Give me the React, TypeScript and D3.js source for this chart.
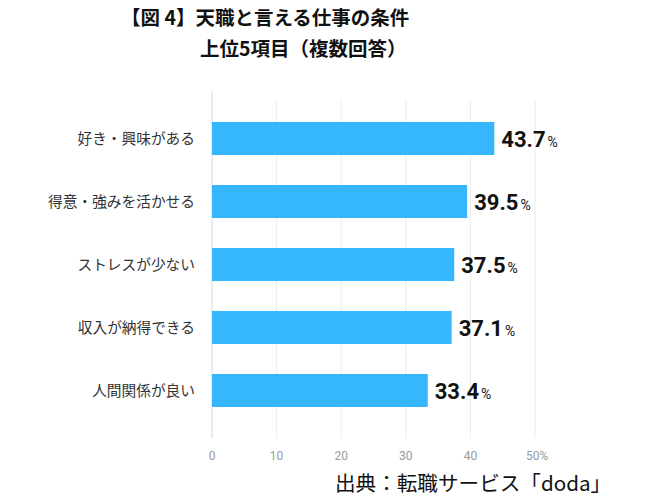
import React from "react";
import * as d3 from "d3";

const categories = ["好き・興味がある", "得意・強みを活かせる", "ストレスが少ない", "収入が納得できる", "人間関係が良い"];
const values = [43.7, 39.5, 37.5, 37.1, 33.4];
const ticks = [0, 10, 20, 30, 40, 50];
const titleLines = ["【図 4】天職と言える仕事の条件", "上位5項目（複数回答）"];
const sourceText = "出典：転職サービス「doda」";

const W = 658, H = 498;
const FONT = "'Noto Sans CJK JP', 'Noto Sans', sans-serif";

export default function App() {
  const x = d3.scaleLinear().domain([0, 50]).range([212, 535]);
  const y = d3.scaleBand().domain(categories).range([107, 422]).paddingInner(0.476).paddingOuter(0.238);
  return (
    <svg width={W} height={H} style={{ position: "absolute", left: 0, top: 0, background: "#fff" }} fontFamily={FONT}>
      <rect width={W} height={H} fill="#fff" />
      <text x={121} y={25} fontSize={19.5} fontWeight={700} fill="#111">{titleLines[0]}</text>
      <text x={200} y={56} fontSize={19.5} fontWeight={700} fill="#111">{titleLines[1]}</text>
      {ticks.map((t) => (
        <g key={t}>
          <line x1={x(t)} x2={x(t)} y1={t === 0 ? 91 : 100} y2={438} stroke={t === 0 ? "#d6d6d6" : "#ececf0"} strokeWidth={1} />
          <text x={x(t)} y={460} fontSize={12} fill="#999" textAnchor={t === 50 ? "start" : "middle"} dx={t === 50 ? -9 : 0} fontFamily="Roboto, sans-serif">
            {t === 50 ? "50%" : t}
          </text>
        </g>
      ))}
      {categories.map((c, i) => {
        const by = y(c)!;
        const bh = y.bandwidth();
        return (
          <g key={c}>
            <rect x={x(0)} y={by} width={x(values[i]) - x(0)} height={bh} fill="#36b6fd" />
            <text x={195} y={by + bh / 2 + 5} fontSize={14.7} fill="#333" textAnchor="end">{c}</text>
            <text x={x(values[i]) + 7} y={by + bh / 2 + 8} fontSize={22} fontWeight={700} fill="#111" fontFamily="Roboto, sans-serif">
              {values[i].toFixed(1)}
              <tspan fontSize={14} fontWeight={400} dx={2}>%</tspan>
            </text>
          </g>
        );
      })}
      <text x={335} y={491} fontSize={20.6} fill="#111">{sourceText}</text>
    </svg>
  );
}
